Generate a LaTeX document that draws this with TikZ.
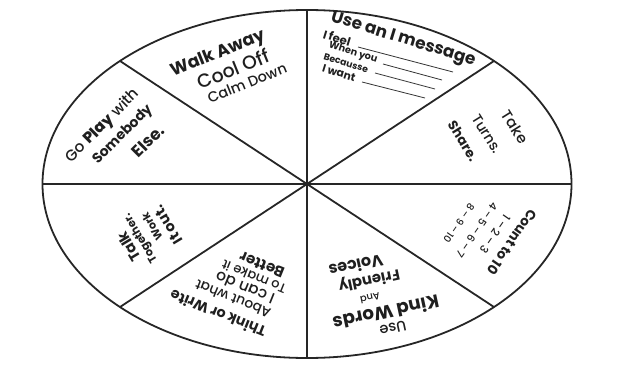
\documentclass[tikz,border=0pt]{standalone}
\usepackage{fontspec}
\usepackage{graphicx}
\setmainfont{Poppins}
\newfontfamily\med{Poppins}[UprightFont=* Medium]
\newcommand\fitw[2]{\resizebox{#1pt}{!}{#2}}
\begin{document}
\begin{tikzpicture}[x=1pt,y=-1pt,
  lbl/.style={inner sep=0pt, text=black!88},
  div/.style={draw=black!85, line width=1.8pt},
  uline/.style={draw=black!80, line width=0.8pt}]
\useasboundingbox (0,0) rectangle (618,364);
\coordinate (O) at (307,184);
\coordinate (T) at (307,10);
\coordinate (B) at (307,358);
\coordinate (L) at (42.5,184);
\coordinate (R) at (571.5,184);
\coordinate (NE) at (494,61);
\coordinate (SW) at (120,307);
\coordinate (NW) at (120,61);
\coordinate (SE) at (494,307);
\draw[div] (O) ellipse [x radius=264.5pt, y radius=174pt];
\draw[div] (T) -- (B);
\draw[div] (L) -- (R);
\draw[div] (NE) -- (SW);
\draw[div] (NW) -- (SE);

% top-left
\node[lbl, rotate=22] (w1) at (218,54) {\fitw{100}{\bfseries Walk Away}};
\node[lbl, rotate=22] (w2) at (233,69) {\fitw{76}{\med Cool Off}};
\node[lbl, rotate=22] (w3) at (247,83) {\fitw{84}{\med Calm Down}};

% top-right
\node[lbl, rotate=-17] (u1) at (403,40) {\fitw{150}{\bfseries Use an I message}};
\node[lbl, rotate=-17] (i1) at (337,38) {\fitw{28}{\bfseries I feel}};
\node[lbl, rotate=-17] (i2) at (353,53) {\fitw{50}{\bfseries When you}};
\node[lbl, rotate=-17] (i3) at (346,63) {\fitw{46}{\bfseries Becausse}};
\node[lbl, rotate=-17] (i4) at (339,73) {\fitw{34}{\bfseries I want}};
\coordinate (l1a) at (358,47); \coordinate (l1b) at (453,72);
\coordinate (l2a) at (383,64); \coordinate (l2b) at (442,80);
\coordinate (l3a) at (375,73); \coordinate (l3b) at (435,89);
\coordinate (l4a) at (362,82); \coordinate (l4b) at (425,98);
\draw[uline] (l1a) -- (l1b);
\draw[uline] (l2a) -- (l2b);
\draw[uline] (l3a) -- (l3b);
\draw[uline] (l4a) -- (l4b);

% right-upper
\node[lbl, rotate=-58] (t1) at (515,127) {\fitw{36}{\med Take}};
\node[lbl, rotate=-58] (t2) at (487,134) {\fitw{43}{\med Turns.}};
\node[lbl, rotate=-58] (t3) at (463,141) {\fitw{44}{\bfseries Share.}};

% right-lower
\node[lbl, rotate=-125] (c1) at (512,242) {\fitw{76}{\bfseries Count to 10}};
\node[lbl, rotate=-125] (n1) at (495,234) {\fitw{44}{\med 1 – 2 – 3}};
\node[lbl, rotate=-125] (n2) at (477,230) {\fitw{64}{\med 4 – 5 – 6 – 7}};
\node[lbl, rotate=-125] (n3) at (459,223) {\fitw{46}{\med 8 – 9 – 10}};

% bottom-right
\node[lbl, rotate=-168] (k1) at (356,266) {\fitw{55}{\bfseries Voices}};
\node[lbl, rotate=-168] (k2) at (369,280) {\fitw{62}{\bfseries Friendly}};
\node[lbl, rotate=-168] (k3) at (370,298) {\fitw{20}{\med And}};
\node[lbl, rotate=-168] (k4) at (386,313) {\fitw{108}{\bfseries Kind Words}};
\node[lbl, rotate=-168] (k5) at (393,328) {\fitw{27}{\med Use}};

% bottom-left
\node[lbl, rotate=158] (b1) at (218,314) {\fitw{102}{\bfseries Think or Write}};
\node[lbl, rotate=158] (b2) at (233,299) {\fitw{80}{\med About what}};
\node[lbl, rotate=158] (b3) at (245,288) {\fitw{62}{\med I can do}};
\node[lbl, rotate=158] (b4) at (254,277) {\fitw{68}{\med To make it}};
\node[lbl, rotate=158] (b5) at (262,265) {\fitw{47}{\bfseries Better}};

% left-lower
\node[lbl, rotate=121] (g1) at (129,247) {\fitw{32}{\bfseries Talk}};
\node[lbl, rotate=121] (g2) at (141,238) {\fitw{55}{\bfseries Together.}};
\node[lbl, rotate=121] (g3) at (152,227) {\fitw{30}{\bfseries Work}};
\node[lbl, rotate=121] (g4) at (168,225) {\fitw{42}{\bfseries It out.}};

% left-upper
\node[lbl, rotate=45] (p1) at (103,126) {\fitw{97}{\med Go \textbf{Play} with}};
\node[lbl, rotate=45] (p2) at (123,135) {\fitw{78}{\bfseries Somebody}};
\node[lbl, rotate=45] (p3) at (148,141) {\fitw{38}{\bfseries Else.}};
\end{tikzpicture}
\end{document}
